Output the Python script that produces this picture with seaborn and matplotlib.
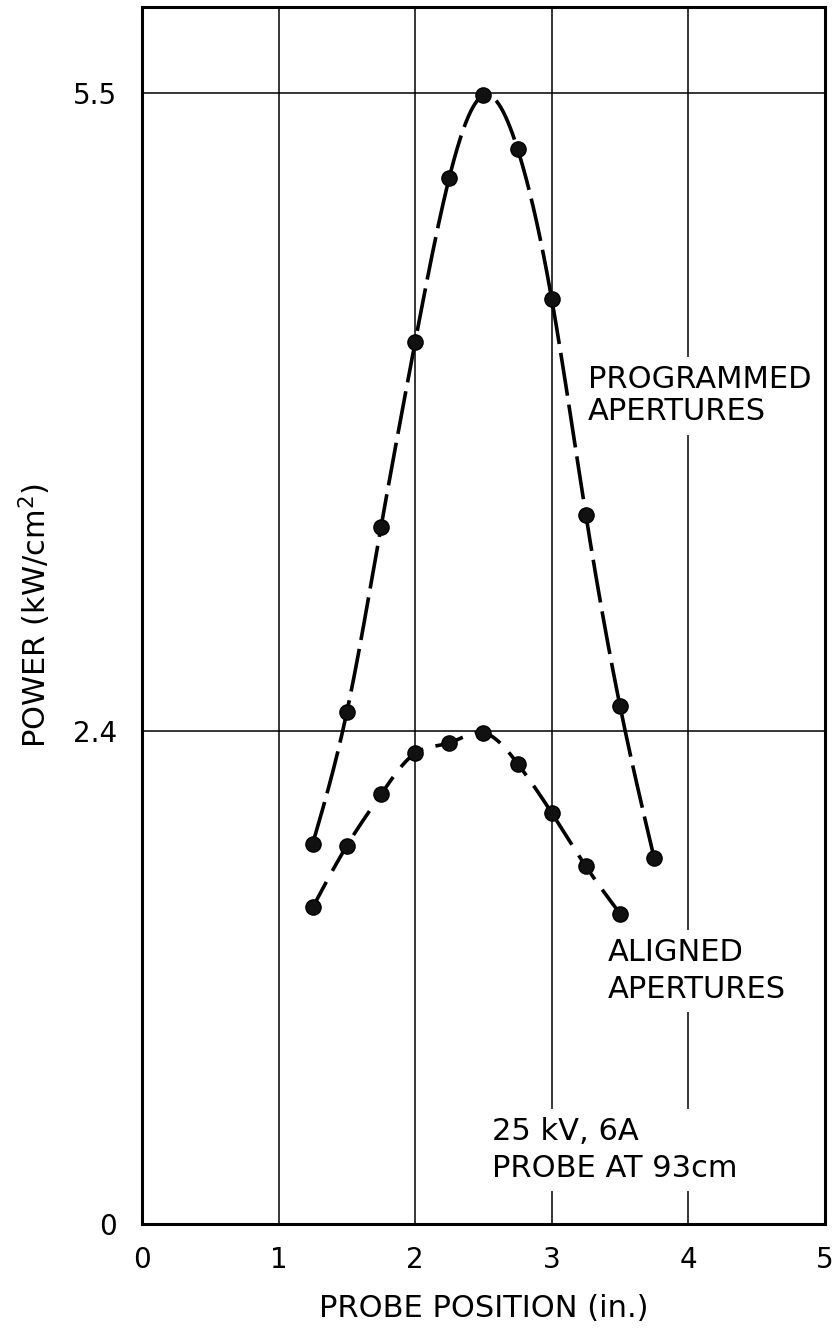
import numpy as np
import pandas as pd
import matplotlib
matplotlib.use("Agg")
import matplotlib.pyplot as plt
import seaborn as sns

# ---- data ----
probe_x_prog = [1.25, 1.5, 1.75, 2.0, 2.25, 2.5, 2.75, 3.0, 3.25, 3.5, 3.75]
power_prog = [1.85, 2.49, 3.39, 4.29, 5.09, 5.49, 5.23, 4.50, 3.45, 2.52, 1.78]

probe_x_align = [1.25, 1.5, 1.75, 2.0, 2.25, 2.5, 2.75, 3.0, 3.25, 3.5]
power_align = [1.54, 1.84, 2.09, 2.29, 2.34, 2.39, 2.24, 2.00, 1.74, 1.51]

x_ticks = [0, 1, 2, 3, 4, 5]
y_ticks = [0, 2.4, 5.5]
y_tick_labels = ["0", "2.4", "5.5"]


def natural_spline(x, y, n=300):
    x = np.asarray(x, float)
    y = np.asarray(y, float)
    m = len(x)
    h = np.diff(x)
    A = np.zeros((m, m))
    b = np.zeros(m)
    A[0, 0] = 1
    A[-1, -1] = 1
    for i in range(1, m - 1):
        A[i, i - 1] = h[i - 1]
        A[i, i] = 2 * (h[i - 1] + h[i])
        A[i, i + 1] = h[i]
        b[i] = 3 * ((y[i + 1] - y[i]) / h[i] - (y[i] - y[i - 1]) / h[i - 1])
    c = np.linalg.solve(A, b)
    bc = (y[1:] - y[:-1]) / h - h * (2 * c[:-1] + c[1:]) / 3
    d = (c[1:] - c[:-1]) / (3 * h)
    xs = np.linspace(x[0], x[-1], n)
    idx = np.clip(np.searchsorted(x, xs) - 1, 0, m - 2)
    dx = xs - x[idx]
    ys = y[idx] + bc[idx] * dx + c[idx] * dx ** 2 + d[idx] * dx ** 3
    return xs, ys


sns.set_style("white")
plt.rcParams["font.family"] = ["DejaVu Sans"]
plt.rcParams["text.color"] = "black"
plt.rcParams["axes.labelcolor"] = "black"

fig = plt.figure(figsize=(8.4, 13.31), dpi=100)
ax = fig.add_axes([0.169, 0.0804, 0.813, 0.9143])

# curves
for xv, yv, dash in [(probe_x_prog, power_prog, (12, 2.5)),
                     (probe_x_align, power_align, (8, 3.5))]:
    xs, ys = natural_spline(xv, yv)
    curve = pd.DataFrame({"x": xs, "y": ys})
    sns.lineplot(data=curve, x="x", y="y", ax=ax, color="black",
                 linewidth=2.6, linestyle=(0, dash), zorder=4)

pts = pd.concat([
    pd.DataFrame({"x": probe_x_prog, "y": power_prog}),
    pd.DataFrame({"x": probe_x_align, "y": power_align}),
])
sns.scatterplot(data=pts, x="x", y="y", ax=ax, s=120, color="#111111",
                edgecolor="black", linewidth=1.0, zorder=5)

ax.set_xlim(0, 5)
ax.set_ylim(0, 5.92)
ax.set_xticks(x_ticks)
ax.set_xticklabels([str(t) for t in x_ticks])
ax.set_yticks(y_ticks)
ax.set_yticklabels(y_tick_labels)
ax.tick_params(axis="both", length=0, labelsize=20, colors="black")
ax.tick_params(axis="y", pad=18)
ax.tick_params(axis="x", pad=16)
ax.grid(True, color="black", linewidth=1.1)
ax.set_axisbelow(True)
for sp in ax.spines.values():
    sp.set_color("black")
    sp.set_linewidth(2.2)
    sp.set_visible(True)

ax.set_xlabel("PROBE POSITION (in.)", fontsize=22, labelpad=14, color="black")
ax.set_ylabel("POWER (kW/cm$^{2}$)", fontsize=22, labelpad=14, color="black")

box = dict(facecolor="white", edgecolor="none", pad=6)
ax.text(3.265, 4.03, "PROGRAMMED\nAPERTURES", fontsize=22, ha="left",
        va="center", linespacing=1.15, bbox=box, zorder=3, color="black")
ax.text(3.41, 1.23, "ALIGNED\nAPERTURES", fontsize=22, ha="left",
        va="center", linespacing=1.35, bbox=box, zorder=3, color="black")
ax.text(2.56, 0.36, "25 kV, 6A\nPROBE AT 93cm", fontsize=22, ha="left",
        va="center", linespacing=1.35, bbox=box, zorder=3, color="black")

fig.savefig("out.png", dpi=100)
